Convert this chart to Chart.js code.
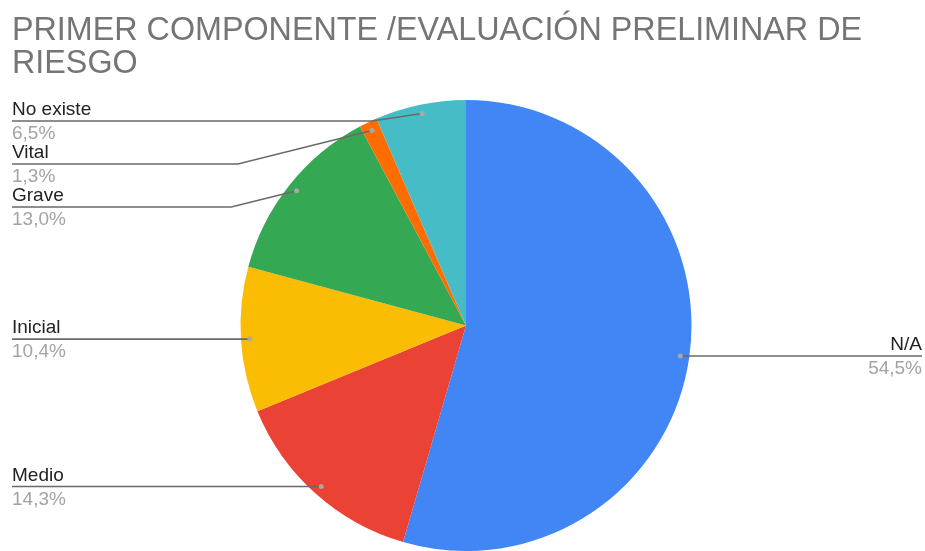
<!DOCTYPE html>
<html>
<head>
<meta charset="utf-8">
<script src="https://cdn.jsdelivr.net/npm/chart.js@4.4.0/dist/chart.umd.min.js"></script>
<style>
html, body { margin: 0; padding: 0; background: #fff; overflow: hidden; }
</style>
</head>
<body>
<canvas id="chartPie" width="925" height="551"></canvas>
<script>
var titleLines = ["PRIMER COMPONENTE /EVALUACIÓN PRELIMINAR DE", "RIESGO"];
var labels = ["N/A", "Medio", "Inicial", "Grave", "Vital", "No existe"];
var values = [54.5, 14.3, 10.4, 13.0, 1.3, 6.5];
var colors = ['#4285F4', '#EA4335', '#FBBC04', '#34A853', '#FF6D01', '#46BDC6'];

var FONT = '"Liberation Sans", Arial, sans-serif';

function pct(v) {
    return v.toFixed(1).replace('.', ',') + '%';
}

// title + leader-line labels, drawn on top of the pie
var sideLabels = {
    id: 'sideLabels',
    afterDraw: function (chart) {
        var ctx = chart.ctx;
        ctx.save();

        ctx.fillStyle = '#757575';
        ctx.font = '32.3px ' + FONT;
        ctx.textAlign = 'left';
        ctx.textBaseline = 'alphabetic';
        ctx.fillText(titleLines[0], 12, 40);
        ctx.fillText(titleLines[1], 12, 73);

        var meta = chart.getDatasetMeta(0);
        var left = [], right = [];
        meta.data.forEach(function (arc, i) {
            var p = arc.getProps(['x', 'y', 'startAngle', 'endAngle', 'outerRadius'], true);
            var mid = (p.startAngle + p.endAngle) / 2;
            var r = p.outerRadius - 9;
            var item = {
                i: i,
                dotX: p.x + Math.cos(mid) * r,
                dotY: p.y + Math.sin(mid) * r
            };
            (Math.cos(mid) >= 0 ? right : left).push(item);
        });

        // push labels down so they keep a fixed gap from each other
        function place(list) {
            list.sort(function (a, b) { return a.dotY - b.dotY; });
            var prev = -Infinity;
            list.forEach(function (it) {
                it.lineY = Math.max(it.dotY, prev + 43, 121);
                prev = it.lineY;
                var d = Math.abs(it.lineY - it.dotY);
                it.bend = d > 1 ? Math.max(50, 4 * d) : 0;
            });
        }
        place(left);
        place(right);

        ctx.lineWidth = 1.6;
        ctx.strokeStyle = '#6a6a6a';

        left.forEach(function (it) {
            var ex = it.dotX - it.bend;
            ctx.beginPath();
            ctx.moveTo(12, it.lineY);
            ctx.lineTo(ex, it.lineY);
            ctx.lineTo(it.dotX, it.dotY);
            ctx.stroke();
            drawText(it, 12, 'left');
        });
        right.forEach(function (it) {
            var ex = it.dotX + it.bend;
            ctx.beginPath();
            ctx.moveTo(it.dotX, it.dotY);
            ctx.lineTo(ex, it.lineY);
            ctx.lineTo(922, it.lineY);
            ctx.stroke();
            drawText(it, 922, 'right');
        });

        left.concat(right).forEach(function (it) {
            ctx.beginPath();
            ctx.fillStyle = 'rgba(170,170,170,0.95)';
            ctx.arc(it.dotX, it.dotY, 2.5, 0, Math.PI * 2);
            ctx.fill();
        });

        function drawText(it, x, align) {
            ctx.textAlign = align;
            ctx.font = '19px ' + FONT;
            ctx.fillStyle = '#222222';
            ctx.fillText(labels[it.i], x, it.lineY - 6);
            ctx.fillStyle = '#a3a3a3';
            ctx.fillText(pct(values[it.i]), x, it.lineY + 18);
        }

        ctx.restore();
    }
};

new Chart(document.getElementById("chartPie"), {
    type: "pie",
    plugins: [sideLabels],
    options: {
        responsive: false,
        animation: false,
        devicePixelRatio: 1,
        layout: {
            padding: { top: 100, bottom: 0, left: 240, right: 233 }
        },
        plugins: {
            legend: { display: false },
            tooltip: { enabled: false }
        }
    },
    data: {
        labels: labels,
        datasets: [{
            data: values,
            backgroundColor: colors,
            borderWidth: 0
        }]
    }
});
</script>
</body>
</html>
